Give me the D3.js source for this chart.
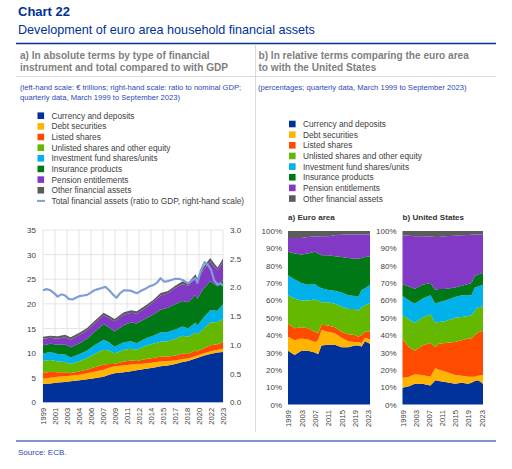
<!DOCTYPE html>
<html>
<head>
<meta charset="utf-8">
<script src="https://cdn.jsdelivr.net/npm/d3@7"></script>
<style>
  body { margin: 0; background: #fff; }
  text { font-family: "Liberation Sans", Arial, sans-serif; }
</style>
</head>
<body>
<svg id="svg" width="512" height="469"></svg>
<script>
// ---- data ----
const seriesNames = [
  "Currency and deposits",
  "Debt securities",
  "Listed shares",
  "Unlisted shares and other equity",
  "Investment fund shares/units",
  "Insurance products",
  "Pension entitlements",
  "Other financial assets",
];
const seriesColors = ["#003299", "#ffb400", "#ff4b00", "#65b800", "#00b1ea", "#007816", "#8139c6", "#5c5c5c"];
const lineName = "Total financial assets (ratio to GDP, right-hand scale)";

// panel a) EUR trillions, one row per date, columns in seriesNames order
const absDates = [1999, 2000, 2001, 2002, 2002.75, 2004, 2005, 2006, 2007.25, 2008, 2008.75, 2010, 2011,
  2011.75, 2013, 2014, 2015, 2016, 2017, 2018, 2018.75, 2019.75, 2020, 2020.75, 2021.75, 2022.75, 2023.5];
const absValues = [
  [3.7, 1.1, 1.15, 2.45, 1.5, 1.7, 1.3, 0.4],
  [3.8, 1.2, 1.2, 2.4, 1.6, 1.7, 1.2, 0.4],
  [4.0, 1.2, 0.9, 2.2, 1.5, 1.9, 1.2, 0.5],
  [4.1, 1.2, 0.8, 2.1, 1.5, 2.1, 1.4, 0.5],
  [4.3, 1.1, 0.5, 1.9, 1.3, 2.1, 1.5, 0.5],
  [4.5, 1.1, 0.7, 2.1, 1.4, 2.2, 1.7, 0.5],
  [4.7, 1.2, 0.7, 2.4, 1.5, 2.4, 1.7, 0.5],
  [4.9, 1.3, 0.9, 2.7, 1.8, 2.7, 1.7, 0.5],
  [5.2, 1.4, 1.1, 3.0, 2.0, 3.2, 1.8, 0.5],
  [5.6, 1.4, 0.8, 2.7, 1.7, 3.0, 1.9, 0.5],
  [5.9, 1.4, 0.5, 2.1, 1.4, 3.1, 2.0, 0.5],
  [6.1, 1.4, 0.8, 2.4, 1.5, 3.5, 2.1, 0.5],
  [6.3, 1.4, 0.8, 2.4, 1.5, 3.8, 2.0, 0.5],
  [6.5, 1.3, 0.6, 2.3, 1.3, 4.0, 2.0, 0.5],
  [6.8, 1.1, 0.9, 2.7, 1.5, 4.0, 2.2, 0.5],
  [7.0, 1.1, 0.9, 2.9, 1.6, 4.3, 2.5, 0.5],
  [7.3, 1.0, 1.0, 3.0, 1.9, 4.6, 2.9, 0.5],
  [7.5, 0.9, 0.9, 3.1, 1.9, 4.9, 2.9, 0.5],
  [7.8, 0.7, 1.0, 3.4, 1.9, 5.1, 3.3, 0.5],
  [8.2, 0.6, 1.1, 3.6, 1.9, 5.2, 3.4, 0.6],
  [8.4, 0.5, 0.9, 3.5, 1.7, 5.3, 3.4, 0.6],
  [8.9, 0.5, 1.1, 3.7, 2.0, 5.6, 3.6, 0.6],
  [9.0, 0.5, 0.8, 3.5, 1.8, 5.4, 3.6, 0.6],
  [9.4, 0.5, 1.0, 3.9, 2.2, 5.9, 3.8, 0.6],
  [9.8, 0.5, 1.3, 4.6, 2.5, 5.9, 4.0, 0.7],
  [10.1, 0.6, 1.1, 4.5, 2.3, 4.9, 3.3, 0.6],
  [10.2, 0.7, 1.3, 4.7, 3.0, 5.0, 3.6, 0.7],
];

// ratio of total financial assets to GDP
const ratioDates = [1999, 1999.5, 2000, 2000.5, 2001, 2001.5, 2002, 2002.5, 2003, 2003.5, 2004, 2004.5,
  2005, 2005.5, 2006, 2006.5, 2007, 2007.5, 2008, 2008.5, 2009, 2009.5, 2010, 2010.5, 2011, 2011.75,
  2012.5, 2013, 2013.5, 2014, 2014.5, 2015, 2015.5, 2016, 2016.5, 2017, 2017.5, 2018, 2018.75, 2019.25,
  2019.75, 2020, 2020.5, 2021, 2021.5, 2021.9, 2022.3, 2022.75, 2023.2, 2023.5];
const ratioValues = [1.95, 1.97, 1.95, 1.9, 1.84, 1.88, 1.86, 1.8, 1.79, 1.82, 1.85, 1.86,
  1.87, 1.91, 1.95, 1.97, 1.99, 2.01, 1.95, 1.88, 1.82, 1.9, 1.95, 1.95, 1.94, 1.9,
  1.95, 1.98, 2.02, 2.04, 2.08, 2.16, 2.1, 2.11, 2.13, 2.15, 2.15, 2.13, 2.07, 2.12,
  2.16, 2.08, 2.3, 2.44, 2.38, 2.3, 2.12, 2.05, 2.07, 2.03];

const absYearLabels = ["1999", "2001", "2003", "2004", "2006", "2007", "2009", "2011", "2012",
  "2014", "2015", "2017", "2018", "2020", "2022", "2023"];
const absTicks = [0, 5, 10, 15, 20, 25, 30, 35];
const ratioTicks = [0, 0.5, 1, 1.5, 2, 2.5, 3];

// panel b) percentage shares
const euroDates = [1999, 2001, 2003, 2005, 2007, 2008, 2009, 2011, 2013, 2015, 2017, 2019, 2020, 2021, 2022, 2023.5];
const euroShares = [
  [31, 8, 7.5, 16.5, 11.5, 13.5, 8, 4],
  [28.5, 8.5, 7, 17, 11, 15, 9, 4],
  [31, 7, 6.5, 15.5, 10, 16.5, 9.5, 4],
  [31, 6.5, 6.5, 16, 9, 18, 9.5, 3.5],
  [30, 6, 6, 18.5, 9, 18.5, 8.8, 3.2],
  [29, 8, 4, 19, 8, 19, 9.8, 3.2],
  [34, 9, 3, 13, 8, 19, 11, 3],
  [34.5, 7.5, 3.5, 13.5, 7, 20, 11, 3],
  [34.5, 6.5, 3.5, 13.5, 7.5, 20, 12, 2.5],
  [33, 5.5, 3.5, 14.5, 8, 20.5, 12.8, 2.2],
  [33, 3.5, 4, 14.5, 8, 21.5, 13.5, 2],
  [34, 2, 4, 15, 7.5, 21.5, 14, 2],
  [34, 2, 3, 15, 8, 22, 14, 2],
  [33.5, 2, 4.5, 16, 10, 18.5, 13.5, 2],
  [36.5, 2, 3.5, 15, 10, 18, 13, 2],
  [35, 2.5, 4.5, 16.5, 10.5, 16.5, 12.5, 2],
];
const usDates = [1999, 2001, 2002.75, 2005, 2007.5, 2009, 2010, 2012, 2015, 2017, 2019, 2020, 2021, 2022, 2023.5];
const usShares = [
  [9.6, 5.7, 22.4, 13.8, 11.1, 6.7, 28.2, 2.5],
  [10.5, 5.5, 17, 16, 11, 8, 29.2, 2.8],
  [12, 5.5, 13.5, 16, 11, 8.5, 30.5, 3],
  [12, 5, 17, 16, 11, 8, 28, 3],
  [11, 5, 19.5, 16.5, 11, 7, 26.8, 3.2],
  [14, 7, 12, 14, 11, 8, 30.5, 3.5],
  [13.5, 6.5, 15, 12.5, 11.5, 7.5, 30, 3.5],
  [13, 6, 16.5, 12.5, 12, 6.5, 30.5, 3],
  [12, 5, 19, 14, 12, 5.5, 29.8, 2.7],
  [12.5, 4, 20.5, 13.5, 12.5, 5.5, 29, 2.5],
  [12, 4, 22, 13, 12, 6.5, 28.2, 2.3],
  [12.5, 3.5, 22, 13.5, 11.5, 7, 27.8, 2.2],
  [13.5, 2.5, 24, 14, 13.5, 6.5, 24, 2],
  [14, 2.5, 25, 14.5, 12, 7, 23, 2],
  [12, 5, 25.5, 14, 12.5, 7, 22, 2],
];
const shareYearTicks = [1999, 2003, 2007, 2011, 2015, 2019, 2023];
const shareTicks = [0, 10, 20, 30, 40, 50, 60, 70, 80, 90, 100];

// ---- drawing ----
const svg = d3.select("#svg");
const darkBlue = "#003299";
const noteBlue = "#2a48b5";
const axisGrey = "#404040";

svg.append("rect").attr("width", 512).attr("height", 469).attr("fill", "#fff");

// header
svg.append("text").attr("x", 18).attr("y", 15.5).attr("font-size", 13).attr("font-weight", "bold")
  .attr("fill", darkBlue).text("Chart 22");
svg.append("text").attr("x", 18).attr("y", 33.5).attr("font-size", 12.6)
  .attr("fill", darkBlue).text("Development of euro area household financial assets");
svg.append("line").attr("x1", 16).attr("x2", 496).attr("y1", 43.5).attr("y2", 43.5)
  .attr("stroke", darkBlue).attr("stroke-width", 1.3);
svg.append("line").attr("x1", 16).attr("x2", 496).attr("y1", 76.5).attr("y2", 76.5)
  .attr("stroke", "#d0d0d0").attr("stroke-width", 0.8);
svg.append("line").attr("x1", 255.5).attr("x2", 255.5).attr("y1", 44).attr("y2", 432)
  .attr("stroke", "#d0d0d0").attr("stroke-width", 0.8);
svg.append("line").attr("x1", 16).attr("x2", 496).attr("y1", 441).attr("y2", 441)
  .attr("stroke", darkBlue).attr("stroke-width", 1.1);
svg.append("text").attr("x", 18).attr("y", 455).attr("font-size", 8).attr("fill", noteBlue).text("Source: ECB.");

function multiline(x, y, lines, size, step, color, weight) {
  lines.forEach((l, i) => {
    svg.append("text").attr("x", x).attr("y", y + i * step).attr("font-size", size)
      .attr("font-weight", weight || "normal").attr("fill", color).text(l);
  });
}
multiline(20, 58.5, ["a) In absolute terms by type of financial", "instrument and total compared to with GDP"],
  10.1, 12.3, "#7f7f7f", "bold");
multiline(258.5, 58.5, ["b) In relative terms comparing the euro area", "to with the United States"],
  10.1, 12.3, "#7f7f7f", "bold");
multiline(20, 90, ["(left-hand scale: € trillions; right-hand scale: ratio to nominal GDP;",
  "quarterly data, March 1999 to September 2023)"], 7.6, 10, noteBlue);
multiline(258, 90, ["(percentages; quarterly data, March 1999 to September 2023)"], 7.6, 10, noteBlue);

// legends
function legend(x, y, withLine) {
  const g = svg.append("g").attr("transform", "translate(" + x + "," + y + ")");
  const rows = g.selectAll(".lg").data(seriesNames).enter().append("g")
    .attr("transform", (d, i) => "translate(0," + i * 10.65 + ")");
  rows.append("rect").attr("x", 0).attr("y", -3.3).attr("width", 6.6).attr("height", 6.6)
    .attr("fill", (d, i) => seriesColors[i]);
  rows.append("text").attr("x", 14).attr("y", 3).attr("font-size", 8.3).attr("fill", axisGrey).text(d => d);
  if (withLine) {
    const ly = seriesNames.length * 10.65;
    g.append("line").attr("x1", -0.5).attr("x2", 7.5).attr("y1", ly).attr("y2", ly)
      .attr("stroke", "#7f9ed8").attr("stroke-width", 2);
    g.append("text").attr("x", 14).attr("y", ly + 3).attr("font-size", 8.3).attr("fill", axisGrey).text(lineName);
  }
}
legend(37.5, 115.7, true);
legend(289, 124, false);

function styleAxis(size) {
  return g => {
    g.select(".domain").remove();
    g.selectAll("text").attr("font-size", size).attr("fill", axisGrey)
      .style("font-family", '"Liberation Sans", Arial, sans-serif');
  };
}

function stackArea(dates, rows, x, y) {
  const stacked = d3.stack().keys(d3.range(seriesNames.length))(rows);
  const area = d3.area()
    .x((d, i) => x(dates[i]))
    .y0(d => y(d[0]))
    .y1(d => y(d[1]));
  return { stacked, area };
}

function rotateLabels(g) {
  g.selectAll("text").attr("transform", "rotate(-90)").attr("x", -4).attr("y", 0)
    .attr("dy", "0.35em").style("text-anchor", "end");
}

// ---- panel a ----
const aLeft = 43, aRight = 223, aTop = 230, aBottom = 402.3;
const xAbs = d3.scaleLinear().domain([absDates[0], absDates[absDates.length - 1]]).range([aLeft, aRight]);
const xAbsTicks = d3.scalePoint().domain(absYearLabels).range([aLeft, aRight]);
const yAbs = d3.scaleLinear().domain([0, 35]).range([aBottom, aTop]);
const yRatio = d3.scaleLinear().domain([0, 3]).range([aBottom, aTop]);

const grid = svg.append("g");
grid.selectAll(".h").data(absTicks).enter().append("line")
  .attr("x1", aLeft).attr("x2", aRight).attr("y1", d => yAbs(d)).attr("y2", d => yAbs(d))
  .attr("stroke", "#dadada").attr("stroke-width", 0.7);
grid.selectAll(".v").data(absYearLabels).enter().append("line")
  .attr("x1", d => xAbsTicks(d)).attr("x2", d => xAbsTicks(d)).attr("y1", aTop).attr("y2", aBottom)
  .attr("stroke", "#dadada").attr("stroke-width", 0.7);

const absStack = stackArea(absDates, absValues, xAbs, yAbs);
svg.append("g").selectAll("path").data(absStack.stacked).enter().append("path")
  .attr("d", absStack.area).attr("fill", (d, i) => seriesColors[i]);

svg.append("path").datum(ratioValues)
  .attr("d", d3.line().x((d, i) => xAbs(ratioDates[i])).y(d => yRatio(d)))
  .attr("fill", "none").attr("stroke", "#7f9ed8").attr("stroke-width", 2.2).attr("stroke-linejoin", "round");

svg.append("g").attr("transform", "translate(" + aLeft + ",0)")
  .call(d3.axisLeft(yAbs).tickValues(absTicks).tickSize(0).tickPadding(7))
  .call(styleAxis(8));
svg.append("g").attr("transform", "translate(" + aRight + ",0)")
  .call(d3.axisRight(yRatio).tickValues(ratioTicks).tickSize(0).tickPadding(7).tickFormat(d3.format(".1f")))
  .call(styleAxis(8));
svg.append("g").attr("transform", "translate(0," + (aBottom + 1.5) + ")")
  .call(d3.axisBottom(xAbsTicks).tickSize(0))
  .call(styleAxis(7.6)).call(rotateLabels);

// ---- panel b ----
function sharePanel(dates, rows, left, right, title) {
  const top = 231, bottom = 404.5;
  const x = d3.scaleLinear().domain([dates[0], dates[dates.length - 1]]).range([left, right]);
  const y = d3.scaleLinear().domain([0, 100]).range([bottom, top]);
  const s = stackArea(dates, rows, x, y);
  svg.append("g").selectAll("path").data(s.stacked).enter().append("path")
    .attr("d", s.area).attr("fill", (d, i) => seriesColors[i]);
  svg.append("g").attr("transform", "translate(" + left + ",0)")
    .call(d3.axisLeft(y).tickValues(shareTicks).tickSize(0).tickPadding(6).tickFormat(d => d + "%"))
    .call(styleAxis(8));
  svg.append("g").attr("transform", "translate(0," + (bottom + 1.5) + ")")
    .call(d3.axisBottom(x).tickValues(shareYearTicks).tickSize(0).tickFormat(d3.format("d")))
    .call(styleAxis(7.6)).call(rotateLabels);
  svg.append("text").attr("x", left).attr("y", 220).attr("font-size", 8.1).attr("font-weight", "bold")
    .attr("fill", "#333").text(title);
}
sharePanel(euroDates, euroShares, 288, 370, "a) Euro area");
sharePanel(usDates, usShares, 402.5, 483, "b) United States");
</script>
</body>
</html>
